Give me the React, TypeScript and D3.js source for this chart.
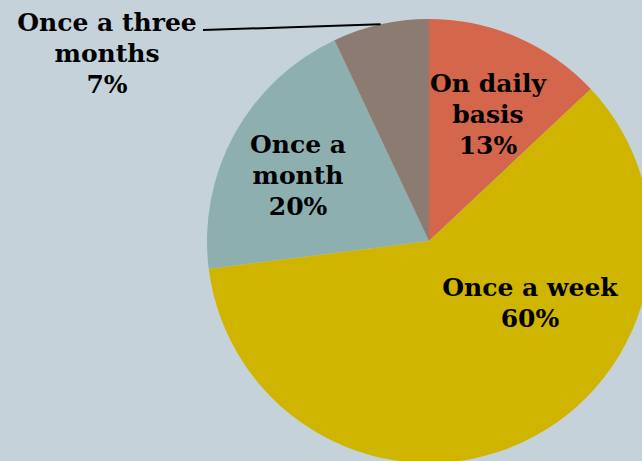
import { useEffect, useRef } from "react";
import * as d3 from "d3";

const categories = ["On daily basis", "Once a week", "Once a month", "Once a three months"];
const values = [13, 60, 20, 7];
const colors = ["#D4664B", "#CFB500", "#8DAFB0", "#8C7B70"];

// label lines per slice (the last line is the percentage)
const labelLines = [
  ["On daily", "basis"],
  ["Once a week"],
  ["Once a", "month"],
  ["Once a three", "months"],
];

// label anchor (center x, first baseline) relative to the pie centre
const labelOffsets: [number, number][] = [
  [59, -149],
  [101, 55],
  [-131, -88],
  [-322, -210],
];

export default function App() {
  const svgRef = useRef<SVGSVGElement>(null);

  useEffect(() => {
    if (!svgRef.current) return;
    document.body.style.margin = "0";

    const width = 642;
    const height = 461;
    const cx = 429;
    const cy = 241;
    const radius = 222;
    const lineHeight = 31;

    const svg = d3.select(svgRef.current);
    svg.selectAll("*").remove();
    svg.attr("width", width).attr("height", height);

    svg.append("rect").attr("width", width).attr("height", height).attr("fill", "#C5D2D9");

    const g = svg.append("g").attr("transform", `translate(${cx},${cy})`);

    const pie = d3
      .pie<number>()
      .sort(null)
      .value((d) => d);
    const arcs = pie(values);

    const arc = d3.arc<d3.PieArcDatum<number>>().innerRadius(0).outerRadius(radius);

    g.selectAll("path.slice")
      .data(arcs)
      .join("path")
      .attr("class", "slice")
      .attr("d", arc)
      .attr("fill", (_, i) => colors[i]);

    // labels
    arcs.forEach((a, i) => {
      const [ox, oy] = labelOffsets[i];
      const t = g
        .append("text")
        .attr("text-anchor", "middle")
        .attr("font-family", "'DejaVu Serif', serif")
        .attr("font-weight", "bold")
        .attr("font-size", 25)
        .attr("fill", "#000");
      const lines = [...labelLines[i], `${a.data}%`];
      lines.forEach((ln, j) => {
        t.append("tspan")
          .attr("x", ox)
          .attr("y", oy + j * lineHeight)
          .text(ln);
      });
    });

    // leader line for the small slice
    const small = arcs[3];
    const mid = (small.startAngle + small.endAngle) / 2;
    const ex = radius * Math.sin(mid);
    const ey = -radius * Math.cos(mid);
    g.append("line")
      .attr("x1", 203 - cx)
      .attr("y1", 30 - cy)
      .attr("x2", ex)
      .attr("y2", ey)
      .attr("stroke", "#000")
      .attr("stroke-width", 2);
  }, []);

  return <svg ref={svgRef} style={{ display: "block" }} />;
}
